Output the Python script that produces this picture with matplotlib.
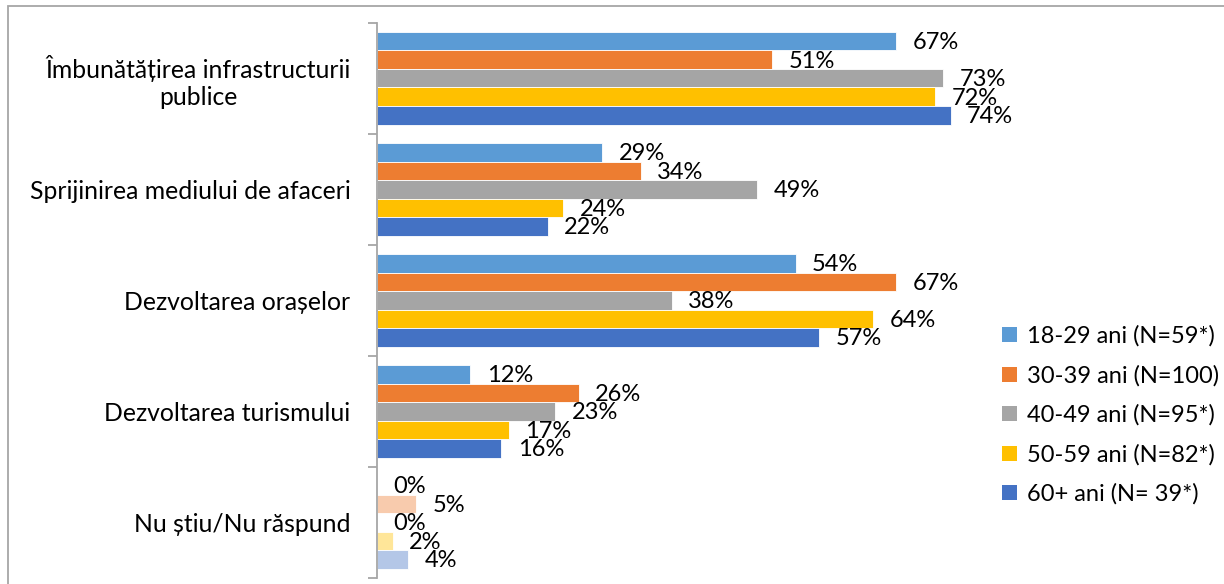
import numpy as np
import matplotlib.pyplot as plt
from matplotlib.patches import Rectangle, Patch

plt.rcParams['font.family'] = ['Lato', 'DejaVu Sans']

# ── data ─────────────────────────────────────────────────────
categories = ['Îmbunătățirea infrastructurii\npublice',
              'Sprijinirea mediului de afaceri',
              'Dezvoltarea orașelor',
              'Dezvoltarea turismului',
              'Nu știu/Nu răspund']
series = ['18-29 ani (N=59*)', '30-39 ani (N=100)', '40-49 ani (N=95*)',
          '50-59 ani (N=82*)', '60+ ani (N= 39*)']
v_18_29 = [67, 29, 54, 12, 0]
v_30_39 = [51, 34, 67, 26, 5]
v_40_49 = [73, 49, 38, 23, 0]
v_50_59 = [72, 24, 64, 17, 2]
v_60 = [74, 22, 57, 16, 4]
values = [v_18_29, v_30_39, v_40_49, v_50_59, v_60]

colors = ['#5B9BD5', '#ED7D31', '#A5A5A5', '#FFC000', '#4472C4']
light = ['#BDD7EE', '#F8CBAD', '#DBDBDB', '#FFE699', '#B4C7E7']  # "Nu știu" row

# ── figure ───────────────────────────────────────────────────
W, H = 1224, 584
fig = plt.figure(figsize=(W / 100, H / 100), dpi=100)
fig.patches.append(Rectangle((8 / W, -0.05), 1.1, 1 - 5.5 / H + 0.05,
                             transform=fig.transFigure, fill=False,
                             edgecolor='#A6A6A6', lw=1.3))

ax = fig.add_axes([377 / W, 1 - 578 / H, 775 / W, 555.3 / H])

n_cat = len(categories)
bar_h = 0.8333 / len(series)
y0 = np.arange(n_cat)
for i, (vals, c, lc) in enumerate(zip(values, colors, light)):
    ys = y0 - 0.41665 + bar_h * (i + 0.5)
    cols = [c] * (n_cat - 1) + [lc]
    ax.barh(ys, vals, height=bar_h, color=cols, edgecolor='white', lw=0.6)
    for y, v in zip(ys, vals):
        ax.annotate(f'{v}%', (v, y), xytext=(12, -1), textcoords='offset points',
                    ha='left', va='center', fontsize=17, color='black')

ax.set_xlim(0, 100)
ax.set_ylim(n_cat - 0.5, -0.5)
ax.set_xticks([])
ax.set_yticks(np.arange(-0.5, n_cat, 1.0), minor=False)
ax.set_yticklabels([])
ax.set_yticks(y0, minor=True)
ax.set_yticklabels(categories, minor=True, fontsize=17.8, ha='right',
                   multialignment='center')
ax.tick_params(axis='y', which='major', direction='out', length=6.5,
               color='#A6A6A6', width=1.3)
ax.tick_params(axis='y', which='minor', length=0, pad=19)
for s in ['top', 'right', 'bottom']:
    ax.spines[s].set_visible(False)
ax.spines['left'].set_color('#A6A6A6')
ax.spines['left'].set_linewidth(1.3)

handles = [Patch(facecolor=c, label=s) for c, s in zip(colors, series)]
fig.legend(handles=handles, loc='upper left', bbox_to_anchor=(993 / W, 1 - 316 / H),
           frameon=False, fontsize=17, handlelength=0.6, handleheight=0.6,
           handletextpad=0.45, labelspacing=0.76, borderaxespad=0)

fig.savefig('out.png', dpi=100)
